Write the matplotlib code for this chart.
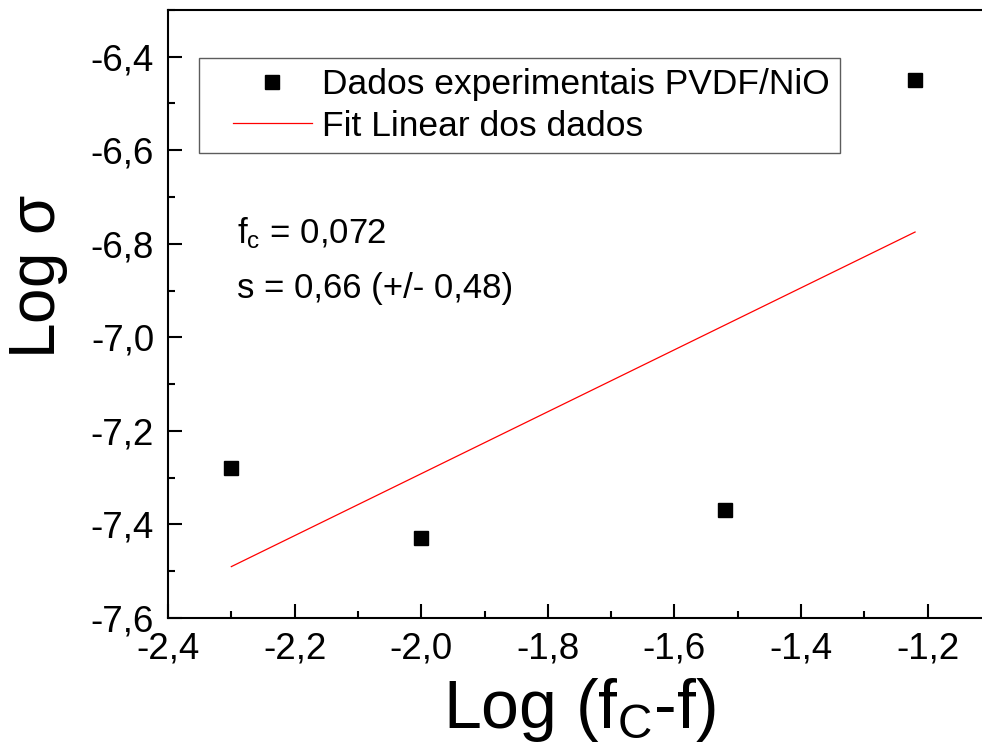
import numpy as np
import matplotlib
matplotlib.use("Agg")
import matplotlib.pyplot as plt
from matplotlib.ticker import MultipleLocator, FuncFormatter
from matplotlib.legend_handler import HandlerLine2D
from matplotlib.lines import Line2D

plt.rcParams['font.family'] = ['Liberation Sans', 'DejaVu Sans']
plt.rcParams['mathtext.fontset'] = 'custom'
plt.rcParams['mathtext.rm'] = 'Liberation Sans'
plt.rcParams['mathtext.it'] = 'Liberation Sans'

# data
log_fc_f = [-2.30, -2.00, -1.52, -1.22]
log_sigma = [-7.28, -7.43, -7.37, -6.45]

xticks = [-2.4, -2.2, -2.0, -1.8, -1.6, -1.4, -1.2]
yticks = [-7.6, -7.4, -7.2, -7.0, -6.8, -6.6, -6.4]

# linear fit of the data
slope, inter = np.polyfit(log_fc_f, log_sigma, 1)
fit_x = np.array([log_fc_f[0], log_fc_f[-1]])
fit_y = slope * fit_x + inter

fig = plt.figure(figsize=(9.82, 7.54), dpi=100)
ax = fig.add_axes([0.1711, 0.1804, 0.8381, 0.8064])

ax.plot(log_fc_f, log_sigma, 's', color='black', markersize=9.5, label='Dados experimentais PVDF/NiO')
ax.plot(fit_x, fit_y, '-', color='red', linewidth=0.9, label='Fit Linear dos dados')

ax.set_xlim(-2.4, -1.1)
ax.set_ylim(-7.6, -6.3)
ax.set_xticks(xticks)
ax.set_yticks(yticks)
ax.xaxis.set_minor_locator(MultipleLocator(0.1))
ax.yaxis.set_minor_locator(MultipleLocator(0.1))
comma = FuncFormatter(lambda v, p: ('%.1f' % v).replace('.', ','))
ax.xaxis.set_major_formatter(comma)
ax.yaxis.set_major_formatter(comma)

ax.tick_params(which='both', direction='in', width=1.5, top=False, right=False)
ax.tick_params(which='major', length=10, labelsize=26.5)
ax.tick_params(axis='x', which='major', pad=10)
ax.tick_params(axis='y', which='major', pad=10)
ax.tick_params(which='minor', length=5)
for s in ax.spines.values():
    s.set_linewidth(1.5)

ax.set_xlabel(r'Log (f$_\mathregular{C}$-f)', fontsize=49)
ax.xaxis.set_label_coords(0.5, -0.095)
ax.set_ylabel(r'Log $\mathregular{\sigma}$', fontsize=46)
ax.yaxis.set_label_coords(-0.119, 0.561)

ax.text(0.084, 0.617, r'f$_\mathregular{c}$ = 0,072', transform=ax.transAxes,
        fontsize=25, va='baseline', ha='left')
ax.text(0.084, 0.526, 's = 0,66 (+/- 0,48)', transform=ax.transAxes,
        fontsize=25, va='baseline', ha='left')

leg = ax.legend(loc='upper left', bbox_to_anchor=(0.0377, 0.921), borderaxespad=0,
                fontsize=25.5, frameon=True, fancybox=False, edgecolor='#333333',
                handlelength=2.9, handletextpad=0.3, borderpad=0.28, labelspacing=0.25,
                handler_map={Line2D: HandlerLine2D(xpad=0.68)})
leg.get_frame().set_linewidth(1.0)

fig.savefig('out.png', dpi=100)
